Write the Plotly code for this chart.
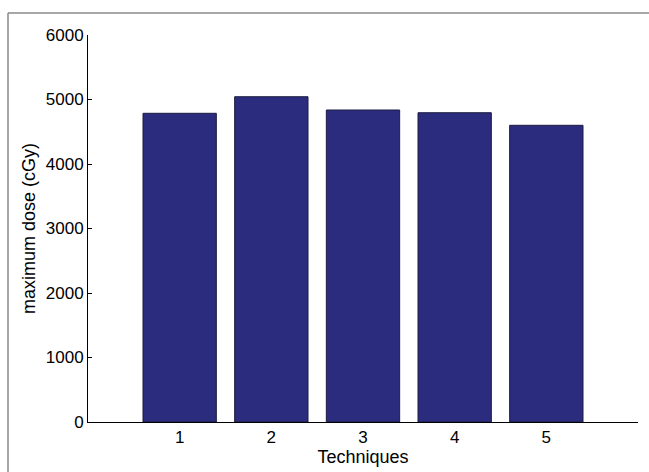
import plotly.graph_objects as go

techniques = [1, 2, 3, 4, 5]
max_dose = [4786, 5043, 4837, 4795, 4600]
y_ticks = [0, 1000, 2000, 3000, 4000, 5000, 6000]

fig = go.Figure()
fig.add_trace(go.Bar(
    x=techniques, y=max_dose, width=0.8,
    marker=dict(color="#2B2C7E", line=dict(color="#1c1c40", width=1)),
))

font_family = "Liberation Sans, Arial, sans-serif"
W, H = 649, 472
L, R, T, B = 88, 11, 35, 50
pw, ph = W - L - R, H - T - B

fig.update_layout(
    width=W, height=H,
    margin=dict(l=L, r=R, t=T, b=B, autoexpand=False),
    paper_bgcolor="white", plot_bgcolor="white",
    font=dict(family=font_family, size=17, color="black"),
    showlegend=False,
)
fig.update_xaxes(
    range=[0, 6], tickvals=techniques, ticktext=[str(t) for t in techniques],
    showline=True, linecolor="black", linewidth=1, mirror=False,
    showgrid=False, zeroline=False, ticks="",
    tickfont=dict(size=17),
    title=dict(text="Techniques", font=dict(size=18), standoff=2),
)
fig.update_yaxes(
    range=[0, 6000], tickvals=y_ticks, ticktext=[str(v) for v in y_ticks],
    showline=True, linecolor="black", linewidth=1, mirror=False,
    showgrid=False, zeroline=False, ticks="inside", ticklen=4, tickcolor="black",
    tickfont=dict(size=17),
    title=dict(text="maximum dose (cGy)", font=dict(size=18), standoff=5),
)

# outer gray frame of the figure (its right and bottom sides lie outside the window)
fx = (8 - L) / pw
fy = 1 + (T - 13) / ph
fig.add_shape(
    type="line", xref="paper", yref="paper",
    x0=fx, x1=fx, y0=-(B + 20) / ph, y1=fy,
    line=dict(color="#8a8a8a", width=1.5), layer="below",
)
fig.add_shape(
    type="line", xref="paper", yref="paper",
    x0=fx, x1=1 + (R + 20) / pw, y0=fy, y1=fy,
    line=dict(color="#8a8a8a", width=1.5), layer="below",
)

fig.write_html(
    "out.html",
    config={"displayModeBar": False},
    post_script=(
        "document.documentElement.style.overflow='hidden';"
        "document.body.style.margin='0';document.body.style.overflow='hidden';"
    ),
)
